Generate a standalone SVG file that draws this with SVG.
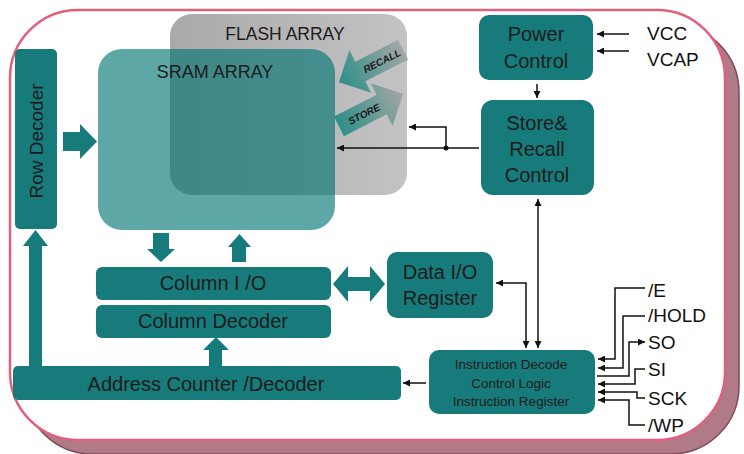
<svg xmlns="http://www.w3.org/2000/svg" width="744" height="454" viewBox="0 0 744 454">
<defs>
<style>
.box{fill:#177b7b}
.t{font-family:"Liberation Sans",Arial,sans-serif;fill:#1c1c1c;text-anchor:middle}
.lbl{font-family:"Liberation Sans",Arial,sans-serif;fill:#111;font-size:19px}
.ln{fill:none;stroke:#111;stroke-width:1.5}
.fat{fill:#177b7b}
.ar{font-family:"Liberation Sans",Arial,sans-serif;font-size:10px;font-weight:bold;font-style:italic;fill:#1a1a1a;text-anchor:middle}
</style>
<marker id="ah" viewBox="0 0 10 10" refX="10" refY="5" markerWidth="7" markerHeight="7" markerUnits="userSpaceOnUse" orient="auto-start-reverse">
<path d="M0,0 L10,5 L0,10 z" fill="#111"/>
</marker>
<linearGradient id="flashG" x1="0" y1="0" x2="1" y2="0">
<stop offset="0" stop-color="#a9a9a9"/>
<stop offset="1" stop-color="#c3c3c3"/>
</linearGradient>
<linearGradient id="arrG" gradientUnits="userSpaceOnUse" x1="-36" y1="0" x2="36" y2="0">
<stop offset="0" stop-color="#2e8f88"/>
<stop offset="1" stop-color="#a2a6a5"/>
</linearGradient>
</defs>

<!-- frame -->
<g id="frame">
<rect x="24" y="24" width="715" height="430" rx="68" fill="#b07a86" stroke="#7d4a58" stroke-width="1.5"/>
<rect x="10" y="10" width="715" height="430" rx="68" fill="#ffffff" stroke="#e0607e" stroke-width="2.5"/>
</g>

<g id="flash">
<rect x="170" y="14" width="237" height="181" rx="22" fill="url(#flashG)"/>
<text class="t" x="285" y="40" font-size="17.5">FLASH ARRAY</text>
</g>

<g id="sram">
<rect x="98" y="49" width="237" height="181" rx="24" fill="#007373" fill-opacity="0.63"/>
<text class="t" x="215" y="78" font-size="18">SRAM ARRAY</text>
</g>

<g id="recall">
<g transform="translate(371,66) rotate(-27)">
<polygon points="-36,0 -12,-24 -12,-11 36,-11 36,11 -12,11 -12,24" fill="url(#arrG)"/>
<text class="ar" x="12" y="4">RECALL</text>
</g>
</g>
<g id="store">
<g transform="translate(371,110) rotate(-27)">
<polygon points="36,0 12,-24 12,-11 -36,-11 -36,11 12,11 12,24" fill="url(#arrG)"/>
<text class="ar" x="-8" y="4">STORE</text>
</g>
</g>

<g id="rowdec">
<rect class="box" x="15" y="49" width="42" height="180" rx="5"/>
<text class="t" font-size="19" transform="translate(43,141) rotate(-90)">Row Decoder</text>
</g>

<g id="power">
<rect class="box" x="479" y="15" width="114" height="65" rx="10"/>
<text class="t" x="536" y="41" font-size="20">Power</text>
<text class="t" x="536" y="68" font-size="20">Control</text>
</g>

<g id="storectl">
<rect class="box" x="481" y="100" width="113" height="95" rx="12"/>
<text class="t" x="537" y="130" font-size="20">Store&amp;</text>
<text class="t" x="537" y="156" font-size="20">Recall</text>
<text class="t" x="537" y="182" font-size="20">Control</text>
</g>

<g id="colio">
<rect class="box" x="96" y="267" width="235" height="33" rx="6"/>
<text class="t" x="213" y="290" font-size="20">Column I /O</text>
</g>

<g id="coldec">
<rect class="box" x="96" y="305" width="235" height="33" rx="6"/>
<text class="t" x="213" y="328" font-size="20">Column Decoder</text>
</g>

<g id="addr">
<rect class="box" x="13" y="366" width="388" height="34" rx="5"/>
<text class="t" x="206" y="391" font-size="20">Address Counter /Decoder</text>
</g>

<g id="dataio">
<rect class="box" x="387" y="252" width="106" height="66" rx="10"/>
<text class="t" x="440" y="279" font-size="20">Data I/O</text>
<text class="t" x="440" y="305" font-size="20">Register</text>
</g>

<g id="instr">
<rect class="box" x="429" y="350" width="166" height="64" rx="10"/>
<text class="t" x="511" y="369" font-size="13.5" fill="#1d3333">Instruction Decode</text>
<text class="t" x="511" y="388" font-size="13.5" fill="#1d3333">Control Logic</text>
<text class="t" x="511" y="406" font-size="13.5" fill="#1d3333">Instruction Register</text>
</g>

<g id="labels">
<text class="lbl" x="647" y="40" font-size="18">VCC</text>
<text class="lbl" x="647" y="66" font-size="18">VCAP</text>
<text class="lbl" x="648" y="297">/E</text>
<text class="lbl" x="648" y="322">/HOLD</text>
<text class="lbl" x="648" y="349">SO</text>
<text class="lbl" x="648" y="376">SI</text>
<text class="lbl" x="648" y="405">SCK</text>
<text class="lbl" x="648" y="432">/WP</text>
</g>

<g id="connectors">
<polygon class="fat" points="63,132 80,132 80,124 97,141.5 80,159 80,151 63,151"/>
<polygon class="fat" points="153,233 169,233 169,249 175,249 161,262 147,249 153,249"/>
<polygon class="fat" points="239.5,234 251,247 246,247 246,262 232,262 232,247 228,247"/>
<polygon class="fat" points="216,337 229,350 222,350 222,366 209,366 209,350 203,350"/>
<polygon class="fat" points="35.5,230 48,246 42,246 42,366 29,366 29,246 23,246"/>
<polygon class="fat" points="333,284 348,266 348,277 370,277 370,266 385,284 370,302 370,291 348,291 348,302"/>

<line class="ln" x1="629" y1="34" x2="597" y2="34" marker-end="url(#ah)"/>
<line class="ln" x1="629" y1="51" x2="597" y2="51" marker-end="url(#ah)"/>
<line class="ln" x1="537" y1="84" x2="537" y2="98" marker-end="url(#ah)"/>
<line class="ln" x1="479" y1="148" x2="337" y2="148" marker-end="url(#ah)"/>
<polyline class="ln" points="446,148 446,127 409,127" marker-end="url(#ah)"/>
<circle cx="446" cy="148" r="2.5" fill="#111"/>
<line class="ln" x1="538" y1="199" x2="538" y2="348" marker-start="url(#ah)" marker-end="url(#ah)"/>
<polyline class="ln" points="496,283 526,283 526,348" marker-start="url(#ah)" marker-end="url(#ah)"/>
<line class="ln" x1="426" y1="383" x2="403" y2="383" marker-end="url(#ah)"/>

<polyline class="ln" points="645,288 615,288 615,359 598,359" marker-end="url(#ah)"/>
<polyline class="ln" points="645,316 623,316 623,368 598,368" marker-end="url(#ah)"/>
<polyline class="ln" points="597,376 629,376 629,342 645,342" marker-end="url(#ah)"/>
<polyline class="ln" points="645,369 635,369 635,384 598,384" marker-end="url(#ah)"/>
<polyline class="ln" points="645,398 637,398 637,392 598,392" marker-end="url(#ah)"/>
<polyline class="ln" points="645,425 629,425 629,400 598,400" marker-end="url(#ah)"/>
</g>
</svg>
